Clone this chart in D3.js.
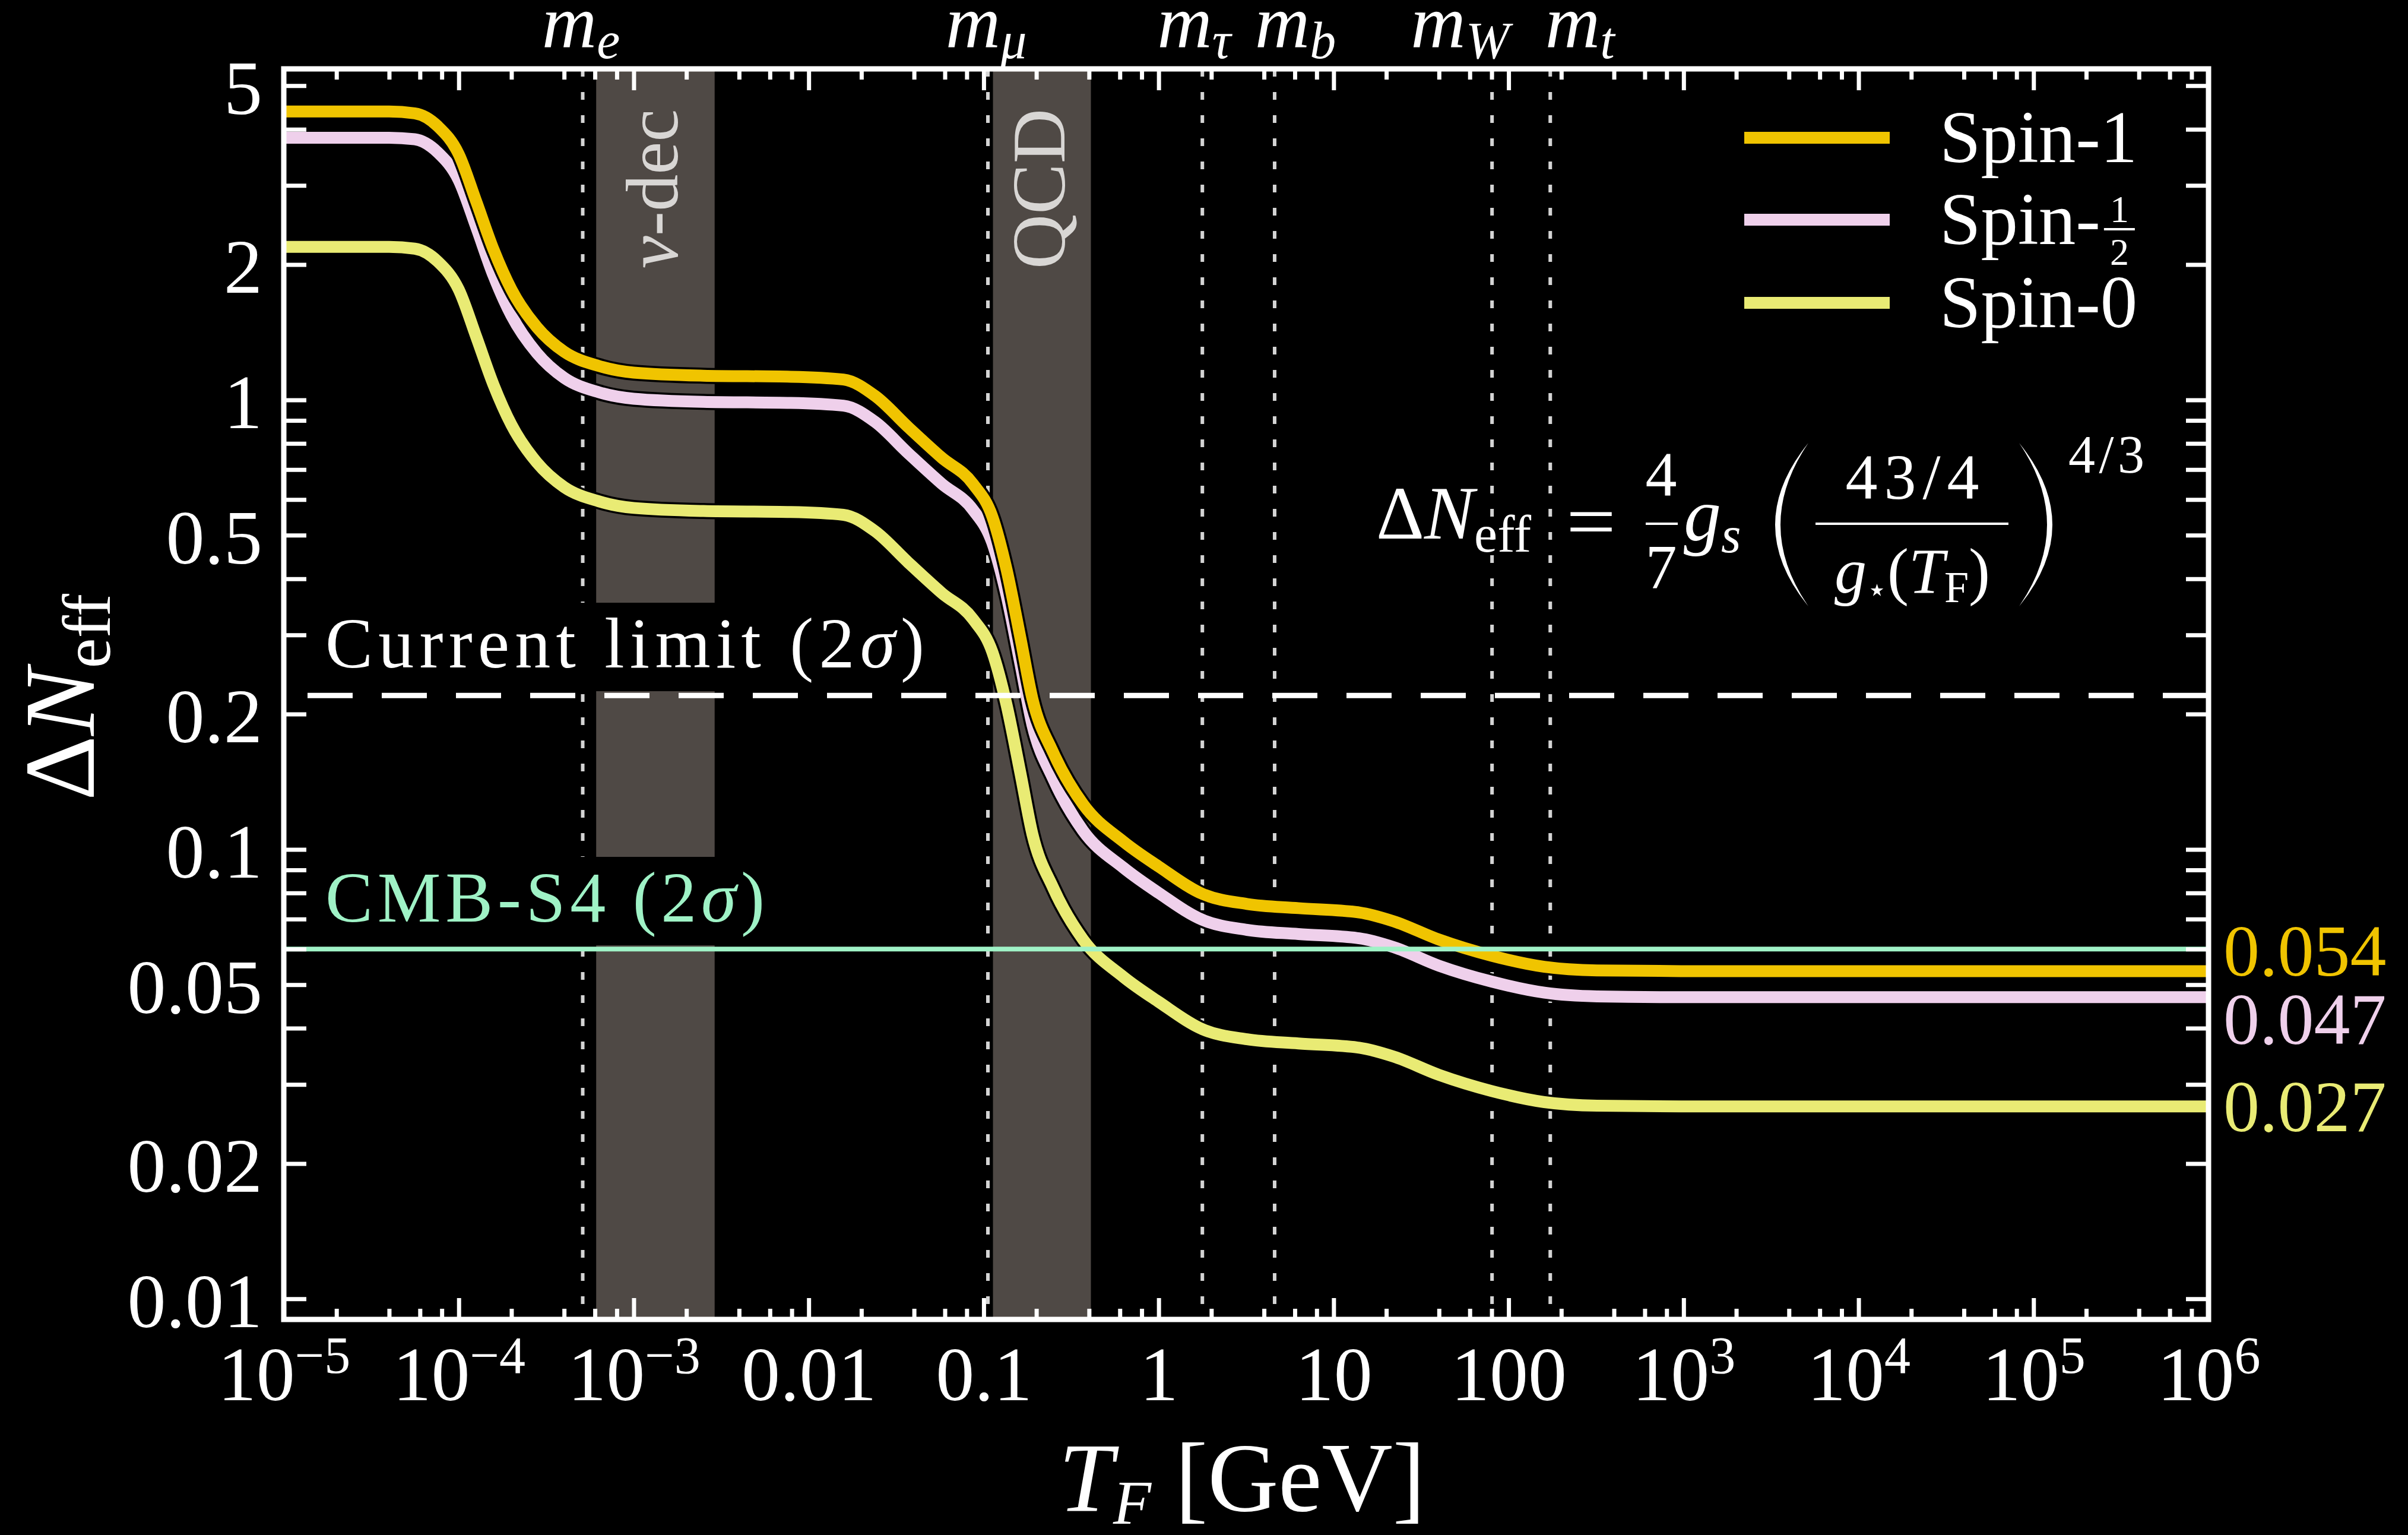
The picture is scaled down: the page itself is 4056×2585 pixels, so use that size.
<!DOCTYPE html>
<html lang="en">
<head>
<meta charset="UTF-8">
<script src="https://cdn.jsdelivr.net/npm/d3@7"></script>
<title>Delta N_eff vs freeze-out temperature</title>
<style>
    body { margin: 0; background: #000; }
    svg { display: block; }
    text { font-family: "Liberation Serif", "DejaVu Serif", serif; fill: #fff; }
</style>
</head>
<body>
<div id="chart"></div>
<script>
    // freeze-out temperature T_F in GeV (x positions of the read points)
    const tempGeV = [1e-5, 4e-5, 5.6e-5, 7.6e-5, 1e-4, 1.26e-4, 1.58e-4, 2e-4, 2.8e-4, 4e-4,
        6.3e-4, 1e-3, 2.5e-3, 7.9e-3, 0.0158, 0.024, 0.037, 0.0575, 0.087, 0.112,
        0.135, 0.162, 0.19, 0.25, 0.37, 0.63, 1.0, 1.78, 3.2, 6.3,
        14, 22, 40, 80, 160, 320, 1000, 1e6];

    // Delta N_eff
    const spin1 = [4.38, 4.38, 4.34, 4.06, 3.52, 2.76, 2.16, 1.76, 1.45, 1.28,
        1.19, 1.15, 1.132, 1.126, 1.11, 1.02, 0.87, 0.744, 0.65, 0.55,
        0.42, 0.296, 0.216, 0.164, 0.126, 0.104, 0.0916, 0.0796, 0.0756, 0.074,
        0.0724, 0.0692, 0.063, 0.058, 0.0548, 0.0538, 0.0536, 0.0536];
    const spinHalf = [3.83, 3.83, 3.80, 3.55, 3.08, 2.42, 1.89, 1.54, 1.27, 1.12,
        1.04, 1.006, 0.99, 0.985, 0.971, 0.893, 0.761, 0.651, 0.569, 0.481,
        0.368, 0.259, 0.189, 0.1435, 0.110, 0.091, 0.080, 0.0697, 0.0662, 0.0648,
        0.0634, 0.0606, 0.0551, 0.0508, 0.048, 0.0471, 0.0469, 0.0469];
    const spin0 = [2.19, 2.19, 2.17, 2.03, 1.76, 1.38, 1.08, 0.88, 0.725, 0.64,
        0.595, 0.575, 0.566, 0.563, 0.555, 0.51, 0.435, 0.372, 0.325, 0.275,
        0.21, 0.148, 0.108, 0.082, 0.063, 0.052, 0.0458, 0.0398, 0.0378, 0.037,
        0.0362, 0.0346, 0.0315, 0.029, 0.0274, 0.0269, 0.0268, 0.0268];

    const seriesNames = ["Spin-1", "Spin-", "Spin-0"];
    const seriesColors = ["#f0c400", "#efd0eb", "#e9eb74"];
    const endLabels = ["0.054", "0.047", "0.027"];
    const endValues = [0.054, 0.047, 0.027];

    const massSub = ["e", "μ", "τ", "b", "W", "t"];
    const massGeV = [0.000511, 0.1057, 1.777, 4.6, 80.4, 173];

    const bandNames = ["ν-dec", "QCD"];
    const bandLo = [6.1e-4, 0.113];
    const bandHi = [2.9e-3, 0.41];

    const currentLimit = 0.22;
    const cmbS4 = 0.06;

    const xMajor = [1e-5, 1e-4, 1e-3, 0.01, 0.1, 1, 10, 100, 1e3, 1e4, 1e5, 1e6];
    const xTickText = ["10^−5", "10^−4", "10^−3", "0.01", "0.1", "1", "10", "100", "10^3", "10^4", "10^5", "10^6"];
    const yTicks = [0.01, 0.02, 0.03, 0.04, 0.05, 0.06, 0.07, 0.08, 0.09,
        0.1, 0.2, 0.3, 0.4, 0.5, 0.6, 0.7, 0.8, 0.9, 1, 2, 3, 4, 5];
    const yLabelled = [0.01, 0.02, 0.05, 0.1, 0.2, 0.5, 1, 2, 5];
    const yTickText = ["0.01", "0.02", "0.05", "0.1", "0.2", "0.5", "1", "2", "5"];

    // ---- layout ----
    const W = 4056, H = 2585;
    const plot = { left: 478, right: 3720, top: 116, bottom: 2222 };

    const x = d3.scaleLog().domain([1e-5, 1e6]).range([plot.left, plot.right]);
    const y = d3.scaleLog().domain([0.009, 5.45]).range([plot.bottom, plot.top]);

    const xMinor = d3.merge(xMajor.slice(0, -1).map(d => [2, 4, 6, 8].map(k => k * d)));

    const svg = d3.select("#chart").append("svg")
        .attr("width", W)
        .attr("height", H);
    svg.append("rect").attr("width", W).attr("height", H).attr("fill", "#000");

    svg.append("defs").append("clipPath").attr("id", "plotclip")
        .append("rect")
        .attr("x", plot.left).attr("y", plot.top)
        .attr("width", plot.right - plot.left).attr("height", plot.bottom - plot.top);

    // grey bands
    const bands = svg.append("g");
    bands.selectAll("rect").data(bandNames).join("rect")
        .attr("x", (d, i) => x(bandLo[i]))
        .attr("width", (d, i) => x(bandHi[i]) - x(bandLo[i]))
        .attr("y", plot.top)
        .attr("height", plot.bottom - plot.top)
        .attr("fill", "#4f4945");

    const bandFont = [124, 128];
    bands.selectAll("text").data(bandNames).join("text")
        .attr("transform", (d, i) => {
            const cx = (x(bandLo[i]) + x(bandHi[i])) / 2 + 0.3 * bandFont[i];
            return `translate(${cx},318) rotate(-90)`;
        })
        .attr("text-anchor", "middle")
        .attr("font-size", (d, i) => bandFont[i])
        .style("fill", "#d8d6d4")
        .each(function (d) {
            const t = d3.select(this);
            if (d.startsWith("ν")) {
                t.append("tspan").attr("font-style", "italic").text("ν");
                t.append("tspan").text(d.slice(1));
            } else {
                t.text(d);
            }
        });

    // dotted particle-mass lines
    svg.append("g").selectAll("line").data(massGeV).join("line")
        .attr("x1", d => x(d)).attr("x2", d => x(d))
        .attr("y1", plot.top).attr("y2", plot.bottom)
        .attr("stroke", "#d4d4d4")
        .attr("stroke-width", 6)
        .attr("stroke-dasharray", "13 26");

    // mass labels above the frame
    const massShift = [-3, -3, -14, 35, -54, 50];
    svg.append("g").selectAll("text").data(massSub).join("text")
        .attr("x", (d, i) => x(massGeV[i]) + massShift[i])
        .attr("y", 80)
        .attr("text-anchor", "middle")
        .attr("font-size", 128)
        .attr("font-style", "italic")
        .each(function (d) {
            const t = d3.select(this);
            t.append("tspan").text("m");
            t.append("tspan").attr("font-size", 88).attr("dy", 18).text(d);
        });

    // limit labels with black boxes that hide the bands behind them
    const labels = svg.append("g");
    const addLabel = (yBase, main, color, len) => {
        const t = labels.append("text")
            .attr("x", 548).attr("y", yBase)
            .attr("font-size", 120)
            .attr("textLength", len)
            .attr("lengthAdjust", "spacing")
            .style("fill", color);
        t.append("tspan").text(main + " (2");
        t.append("tspan").attr("font-style", "italic").text("σ");
        t.append("tspan").text(")");
        const bb = t.node().getBBox();
        labels.insert("rect", "text")
            .attr("x", bb.x - 12).attr("y", bb.y - 2)
            .attr("width", bb.width + 24).attr("height", bb.height + 16)
            .attr("fill", "#000");
    };
    addLabel(1124, "Current limit", "#ffffff", 1009);
    addLabel(1552, "CMB-S4", "#9ff2c6", 740);

    // curves
    const line = d3.line()
        .x((d, i) => x(tempGeV[i]))
        .y(d => y(d))
        .curve(d3.curveMonotoneX);

    const seriesValues = [spin1, spinHalf, spin0];
    const curves = svg.append("g").attr("clip-path", "url(#plotclip)");
    [2, 1, 0].forEach(k => {
        curves.append("path").datum(seriesValues[k])
            .attr("d", line).attr("fill", "none")
            .attr("stroke", "#000").attr("stroke-width", 27);
        curves.append("path").datum(seriesValues[k])
            .attr("d", line).attr("fill", "none")
            .attr("stroke", seriesColors[k]).attr("stroke-width", 20);
    });

    // reference lines
    svg.append("line")
        .attr("x1", plot.left).attr("x2", plot.right)
        .attr("y1", y(currentLimit)).attr("y2", y(currentLimit))
        .attr("stroke", "#fff").attr("stroke-width", 9)
        .attr("stroke-dasharray", "76 49").attr("stroke-dashoffset", -40);
    svg.append("line")
        .attr("x1", plot.left).attr("x2", plot.right)
        .attr("y1", y(cmbS4)).attr("y2", y(cmbS4))
        .attr("stroke", "#9ff2c6").attr("stroke-width", 8);

    // axes
    const styleAxis = g => {
        g.select(".domain").remove();
        g.attr("font-family", null).attr("font-size", 130).style("color", "#fff");
        g.selectAll(".tick line").attr("stroke-width", 7);
    };

    const gx = svg.append("g")
        .attr("transform", `translate(0,${plot.bottom})`)
        .call(d3.axisBottom(x).tickValues(xMajor).tickSize(-36).tickPadding(44).tickFormat(""))
        .call(styleAxis);
    gx.selectAll(".tick text").each(function (d, i) {
        const t = d3.select(this);
        const parts = xTickText[i].split("^");
        t.append("tspan").text(parts[0]);
        if (parts[1]) t.append("tspan").attr("font-size", 88).attr("dy", -46).text(parts[1]);
    });
    svg.append("g")
        .attr("transform", `translate(0,${plot.bottom})`)
        .call(d3.axisBottom(x).tickValues(xMinor).tickSize(-18).tickFormat(""))
        .call(styleAxis);
    svg.append("g")
        .attr("transform", `translate(0,${plot.top})`)
        .call(d3.axisTop(x).tickValues(xMajor).tickSize(-36).tickFormat(""))
        .call(styleAxis);
    svg.append("g")
        .attr("transform", `translate(0,${plot.top})`)
        .call(d3.axisTop(x).tickValues(xMinor).tickSize(-18).tickFormat(""))
        .call(styleAxis);

    svg.append("g")
        .attr("transform", `translate(${plot.left},0)`)
        .call(d3.axisLeft(y).tickValues(yTicks).tickSize(-38).tickPadding(36)
            .tickFormat(d => { const j = yLabelled.indexOf(d); return j < 0 ? "" : yTickText[j]; }))
        .call(styleAxis)
        .selectAll("text").attr("dy", "0.36em");
    svg.append("g")
        .attr("transform", `translate(${plot.right},0)`)
        .call(d3.axisRight(y).tickValues(yTicks).tickSize(-38).tickFormat(""))
        .call(styleAxis);

    // frame
    svg.append("rect")
        .attr("x", plot.left).attr("y", plot.top)
        .attr("width", plot.right - plot.left).attr("height", plot.bottom - plot.top)
        .attr("fill", "none").attr("stroke", "#fff").attr("stroke-width", 9);

    // axis titles
    const xt = svg.append("text")
        .attr("x", 2092).attr("y", 2544)
        .attr("text-anchor", "middle")
        .attr("font-size", 165);
    xt.append("tspan").attr("font-style", "italic").text("T");
    xt.append("tspan").attr("font-style", "italic").attr("font-size", 105).attr("dy", 22).text("F");
    xt.append("tspan").attr("dy", -22).attr("dx", 40).text("[GeV]");

    const yt = svg.append("text")
        .attr("transform", "translate(158,1174) rotate(-90)")
        .attr("text-anchor", "middle")
        .attr("font-size", 170);
    yt.append("tspan").text("Δ");
    yt.append("tspan").attr("font-style", "italic").text("N");
    yt.append("tspan").attr("font-size", 115).attr("dy", 27).text("eff");

    // right-hand plateau values
    const endNudge = [10, 79, 44];
    svg.append("g").selectAll("text").data(endLabels).join("text")
        .attr("x", 3745)
        .attr("y", (d, i) => y(endValues[i]) + endNudge[i])
        .attr("font-size", 122)
        .style("fill", (d, i) => seriesColors[i])
        .text(d => d);

    // legend
    const legendY = [232, 370, 510];
    const legend = svg.append("g");
    seriesNames.forEach((name, i) => {
        legend.append("line")
            .attr("x1", 2938).attr("x2", 3183)
            .attr("y1", legendY[i]).attr("y2", legendY[i])
            .attr("stroke", seriesColors[i]).attr("stroke-width", 20);
        const t = legend.append("text")
            .attr("x", 3267).attr("y", legendY[i] + 41)
            .attr("font-size", 125)
            .text(name);
        if (i === 1) {
            const fx = 3267 + t.node().getComputedTextLength() + 32;
            legend.append("text").attr("x", fx).attr("y", 374)
                .attr("text-anchor", "middle").attr("font-size", 64).text("1");
            legend.append("line").attr("x1", fx - 26).attr("x2", fx + 26)
                .attr("y1", 386).attr("y2", 386)
                .attr("stroke", "#fff").attr("stroke-width", 4);
            legend.append("text").attr("x", fx).attr("y", 446)
                .attr("text-anchor", "middle").attr("font-size", 64).text("2");
        }
    });

    // formula
    const f = svg.append("g");
    const lhs = f.append("text").attr("x", 2318).attr("y", 907).attr("font-size", 126);
    lhs.append("tspan").text("Δ");
    lhs.append("tspan").attr("font-style", "italic").text("N");
    lhs.append("tspan").attr("font-size", 88).attr("dy", 22).text("eff");
    f.append("text").attr("x", 2638).attr("y", 922)
        .attr("font-size", 130).attr("textLength", 84).attr("lengthAdjust", "spacingAndGlyphs")
        .text("=");
    f.append("text").attr("x", 2798).attr("y", 834).attr("text-anchor", "middle")
        .attr("font-size", 106).text("4");
    f.append("line").attr("x1", 2772).attr("x2", 2826).attr("y1", 882).attr("y2", 882)
        .attr("stroke", "#fff").attr("stroke-width", 4);
    f.append("text").attr("x", 2798).attr("y", 991).attr("text-anchor", "middle")
        .attr("font-size", 106).text("7");
    const gs = f.append("text").attr("x", 2836).attr("y", 910).attr("font-size", 126)
        .attr("font-style", "italic");
    gs.append("tspan").text("g");
    gs.append("tspan").attr("font-size", 86).attr("dy", 20).text("s");
    f.append("path")
        .attr("d", "M3046,746 Q2934,884 3046,1021 Q2952,884 3046,746 Z")
        .attr("fill", "#fff");
    f.append("path")
        .attr("d", "M3401,746 Q3513,884 3401,1021 Q3495,884 3401,746 Z")
        .attr("fill", "#fff");
    f.append("text").attr("x", 3221).attr("y", 840).attr("text-anchor", "middle")
        .attr("font-size", 108).attr("textLength", 225).attr("lengthAdjust", "spacing")
        .text("43/4");
    f.append("line").attr("x1", 3058).attr("x2", 3383).attr("y1", 882).attr("y2", 882)
        .attr("stroke", "#fff").attr("stroke-width", 4);
    const den = f.append("text").attr("x", 3221).attr("y", 998).attr("text-anchor", "middle")
        .attr("font-size", 108).attr("textLength", 262).attr("lengthAdjust", "spacing");
    den.append("tspan").attr("font-style", "italic").text("g");
    den.append("tspan").attr("font-size", 56).attr("dy", 14)
        .style("font-family", "DejaVu Sans").text("⋆");
    den.append("tspan").attr("dy", -14).text("(");
    den.append("tspan").attr("font-style", "italic").text("T");
    den.append("tspan").attr("font-size", 74).attr("dy", 16).text("F");
    den.append("tspan").attr("dy", -16).text(")");
    f.append("text").attr("x", 3484).attr("y", 796).attr("font-size", 90)
        .attr("textLength", 128).attr("lengthAdjust", "spacing").text("4/3");
</script>
</body>
</html>
